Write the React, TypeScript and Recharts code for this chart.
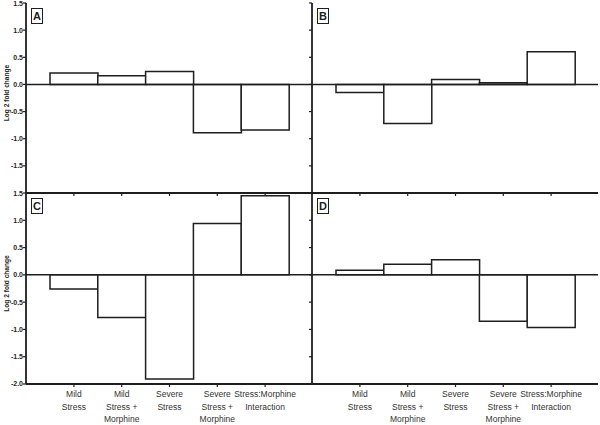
import React from "react";
import {
  BarChart,
  Bar,
  XAxis,
  YAxis,
  ReferenceLine,
  Label,
} from "recharts";

const categories = [
  "Mild\nStress",
  "Mild\nStress +\nMorphine",
  "Severe\nStress",
  "Severe\nStress +\nMorphine",
  "Stress:Morphine\nInteraction",
];

const panelA = [0.21, 0.16, 0.24, -0.89, -0.84];
const panelB = [-0.15, -0.72, 0.09, 0.03, 0.6];
const panelC = [-0.26, -0.78, -1.91, 0.94, 1.45];
const panelD = [0.085, 0.195, 0.275, -0.85, -0.965];

const topTicks = [-1.5, -1, -0.5, 0, 0.5, 1, 1.5];
const bottomTicks = [-2, -1.5, -1, -0.5, 0, 0.5, 1, 1.5];
const yDomain = [-2, 1.5];

const INK = "#1e1e1e";
const FONT = "'Liberation Sans', Arial, Helvetica, sans-serif";

const toRows = (values: number[]) =>
  categories.map((name, i) => ({ name, value: values[i] }));

const XTick = (props: any) => {
  const { x, y, payload } = props;
  const lines = String(payload.value).split("\n");
  return (
    <g>
      {lines.map((line: string, i: number) => (
        <text
          key={i}
          x={x}
          y={y + 10 + i * 12.5}
          textAnchor="middle"
          fontSize={8.5}
          fontFamily={FONT}
          fill="#333"
        >
          {line}
        </text>
      ))}
    </g>
  );
};

const EmptyTick = () => <g />;

const YLabel = (props: any) => {
  const vb = props.viewBox || {};
  const cx = 6;
  const cy = (vb.y || 0) + (vb.height || 0) / 2 - 5;
  return (
    <text
      x={cx}
      y={cy}
      transform={`rotate(-90, ${cx}, ${cy})`}
      textAnchor="middle"
      dominantBaseline="central"
      fontSize={6.6}
      fontWeight="bold"
      fontFamily={FONT}
      fill={INK}
    >
      Log 2 fold change
    </text>
  );
};

interface PanelProps {
  letter: string;
  values: number[];
  left: number;
  top: number;
  showYLabels: boolean;
  showXLabels: boolean;
}

function Panel({ letter, values, left, top, showYLabels, showXLabels }: PanelProps) {
  const yWidth = showYLabels ? 26 : 6;
  const width = showYLabels ? 314 : 294;
  const xHeight = showXLabels ? 41 : 5;
  const height = showXLabels ? 235 : 198;
  const ticks = showXLabels ? bottomTicks : topTicks;

  return (
    <div style={{ position: "absolute", left, top, width, height }}>
      <BarChart
        width={width}
        height={height}
        data={toRows(values)}
        margin={{ top: 3, right: 2, left: 0, bottom: 0 }}
        barCategoryGap={0}
        barGap={0}
      >
        <XAxis
          dataKey="name"
          interval={0}
          padding={{ left: 24, right: 23 }}
          height={xHeight}
          tickSize={3}
          tickMargin={0}
          stroke={INK}
          axisLine={{ stroke: INK, strokeWidth: 1.8 }}
          tickLine={{ stroke: INK, strokeWidth: 1.2 }}
          tick={showXLabels ? <XTick /> : EmptyTick}
        />
        <XAxis
          xAxisId="t"
          orientation="top"
          dataKey="name"
          height={0}
          tick={false}
          tickLine={false}
          axisLine={{ stroke: INK, strokeWidth: 1.8 }}
        />
        <YAxis
          type="number"
          domain={yDomain}
          ticks={ticks}
          interval={0}
          width={yWidth}
          tickSize={3}
          tickMargin={0}
          axisLine={{ stroke: INK, strokeWidth: 1.8 }}
          tickLine={{ stroke: INK, strokeWidth: 1.2 }}
          tick={{ fontSize: 7, fontWeight: "bold", fill: INK, fontFamily: FONT }}
          tickFormatter={(v: number) => (showYLabels ? v.toFixed(1) : "")}
        >
          {showYLabels && <Label content={<YLabel />} />}
        </YAxis>
        <YAxis
          yAxisId="r"
          orientation="right"
          type="number"
          domain={yDomain}
          width={0}
          tick={false}
          tickLine={false}
          axisLine={{ stroke: INK, strokeWidth: 1.8 }}
        />
        <ReferenceLine y={0} stroke={INK} strokeWidth={1.5} />
        <Bar
          dataKey="value"
          fill="#fff"
          stroke={INK}
          strokeWidth={1.5}
          isAnimationActive={false}
        />
      </BarChart>
      <div
        style={{
          position: "absolute",
          left: yWidth + 5,
          top: 8,
          width: 10,
          height: 14,
          border: `1.5px solid ${INK}`,
          fontFamily: FONT,
          fontWeight: "bold",
          fontSize: 11,
          lineHeight: "14px",
          textAlign: "center",
          color: INK,
          background: "#fff",
        }}
      >
        {letter}
      </div>
    </div>
  );
}

export default function App() {
  return (
    <div
      style={{
        position: "absolute",
        left: 0,
        top: 0,
        width: 600,
        height: 425,
        background: "#fff",
        overflow: "hidden",
      }}
    >
      <Panel letter="A" values={panelA} left={0} top={0} showYLabels showXLabels={false} />
      <Panel letter="B" values={panelB} left={306} top={0} showYLabels={false} showXLabels={false} />
      <Panel letter="C" values={panelC} left={0} top={190} showYLabels showXLabels />
      <Panel letter="D" values={panelD} left={306} top={190} showYLabels={false} showXLabels />
    </div>
  );
}
